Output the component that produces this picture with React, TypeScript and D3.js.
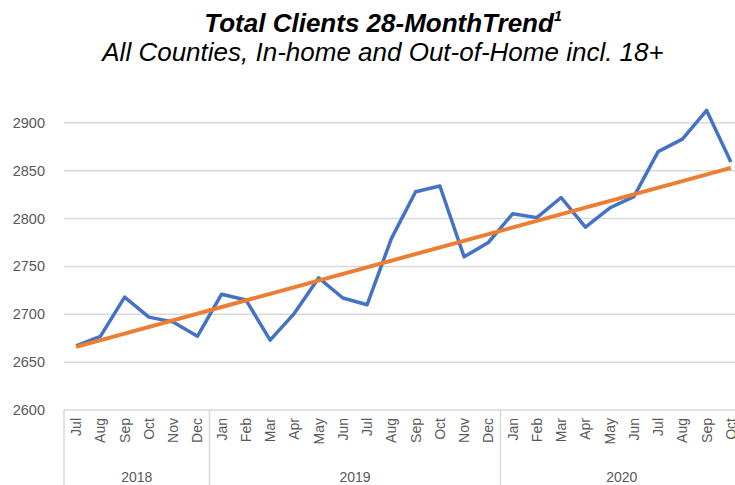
import * as d3 from "d3";
import { useEffect, useRef } from "react";

const months = [
  "Jul", "Aug", "Sep", "Oct", "Nov", "Dec",
  "Jan", "Feb", "Mar", "Apr", "May", "Jun", "Jul", "Aug", "Sep", "Oct", "Nov", "Dec",
  "Jan", "Feb", "Mar", "Apr", "May", "Jun", "Jul", "Aug", "Sep", "Oct",
];
const years = ["2018", "2019", "2020"];
const monthsPerYear = [6, 12, 10];
const clients = [
  2667, 2677, 2718, 2697, 2692, 2677,
  2721, 2715, 2673, 2701, 2738, 2717, 2710, 2779, 2828, 2834, 2760, 2775,
  2805, 2801, 2822, 2791, 2811, 2823, 2870, 2883, 2913, 2859,
];
// trendline values at first and last month
const trendEnds = [2666, 2853];
const yTicks = [2600, 2650, 2700, 2750, 2800, 2850, 2900];

const App = () => {
  const ref = useRef<SVGSVGElement | null>(null);

  useEffect(() => {
    const svg = d3.select(ref.current);
    svg.selectAll("*").remove();

    const width = 735,
      height = 485;
    const left = 64,
      right = 743,
      top = 75,
      bottom = 410;
    const font = "'Liberation Sans', Arial, sans-serif";

    const keys = months.map((_, i) => String(i));
    const x = d3.scaleBand().domain(keys).range([left, right]);
    const cx = (i: number) => (x(String(i)) ?? 0) + x.bandwidth() / 2;
    const y = d3.scaleLinear().domain([2600, 2950]).range([bottom, top]);

    // title
    svg
      .append("text")
      .attr("x", 383)
      .attr("y", 32)
      .attr("text-anchor", "middle")
      .attr("font-family", font)
      .attr("font-size", 26)
      .attr("font-weight", "bold")
      .attr("font-style", "italic")
      .text("Total Clients 28-MonthTrend")
      .append("tspan")
      .attr("font-size", 14)
      .attr("dy", -11)
      .text("1");
    svg
      .append("text")
      .attr("x", 383)
      .attr("y", 61)
      .attr("text-anchor", "middle")
      .attr("font-family", font)
      .attr("font-size", 26)
      .attr("font-style", "italic")
      .text("All Counties, In-home and Out-of-Home incl. 18+");

    // gridlines + y labels
    svg
      .append("g")
      .selectAll("line")
      .data(yTicks)
      .join("line")
      .attr("x1", left)
      .attr("x2", width)
      .attr("y1", (d) => y(d))
      .attr("y2", (d) => y(d))
      .attr("stroke", "#d9d9d9")
      .attr("stroke-width", 1.5);
    svg
      .append("g")
      .selectAll("text")
      .data(yTicks)
      .join("text")
      .attr("x", 45)
      .attr("y", (d) => y(d) + 5)
      .attr("text-anchor", "end")
      .attr("font-family", font)
      .attr("font-size", 14.5)
      .attr("fill", "#595959")
      .text((d) => d);

    // multi-level category axis
    const bounds = [0];
    monthsPerYear.forEach((n, i) => bounds.push(bounds[i] + n));
    const edge = (k: number) => left + k * x.step();
    svg
      .append("g")
      .selectAll("line")
      .data(bounds.slice(0, 3))
      .join("line")
      .attr("x1", (d) => edge(d))
      .attr("x2", (d) => edge(d))
      .attr("y1", bottom)
      .attr("y2", height)
      .attr("stroke", "#d9d9d9")
      .attr("stroke-width", 1.5);

    svg
      .append("g")
      .selectAll("text")
      .data(months)
      .join("text")
      .attr("transform", (_, i) => `translate(${cx(i) + 5},418) rotate(-90)`)
      .attr("text-anchor", "end")
      .attr("font-family", font)
      .attr("font-size", 14)
      .attr("fill", "#595959")
      .text((d) => d);

    svg
      .append("g")
      .selectAll("text")
      .data(years)
      .join("text")
      .attr("x", (_, i) => (edge(bounds[i]) + edge(bounds[i + 1])) / 2)
      .attr("y", 482)
      .attr("text-anchor", "middle")
      .attr("font-family", font)
      .attr("font-size", 14)
      .attr("fill", "#595959")
      .text((d) => d);

    // data line
    const line = d3
      .line<number>()
      .x((_, i) => cx(i))
      .y((d) => y(d));
    svg
      .append("path")
      .datum(clients)
      .attr("fill", "none")
      .attr("stroke", "#4472C4")
      .attr("stroke-width", 3.5)
      .attr("stroke-linejoin", "round")
      .attr("d", line);

    // linear trendline
    const last = clients.length - 1;
    svg
      .append("path")
      .datum(trendEnds)
      .attr("fill", "none")
      .attr("stroke", "#ED7D31")
      .attr("stroke-width", 4)
      .attr(
        "d",
        d3
          .line<number>()
          .x((_, i) => cx(i === 0 ? 0 : last))
          .y((d) => y(d))
      );
  }, []);

  return (
    <svg
      ref={ref}
      width={735}
      height={485}
      style={{ position: "absolute", left: 0, top: 0, background: "#fff" }}
    ></svg>
  );
};

export default App;
